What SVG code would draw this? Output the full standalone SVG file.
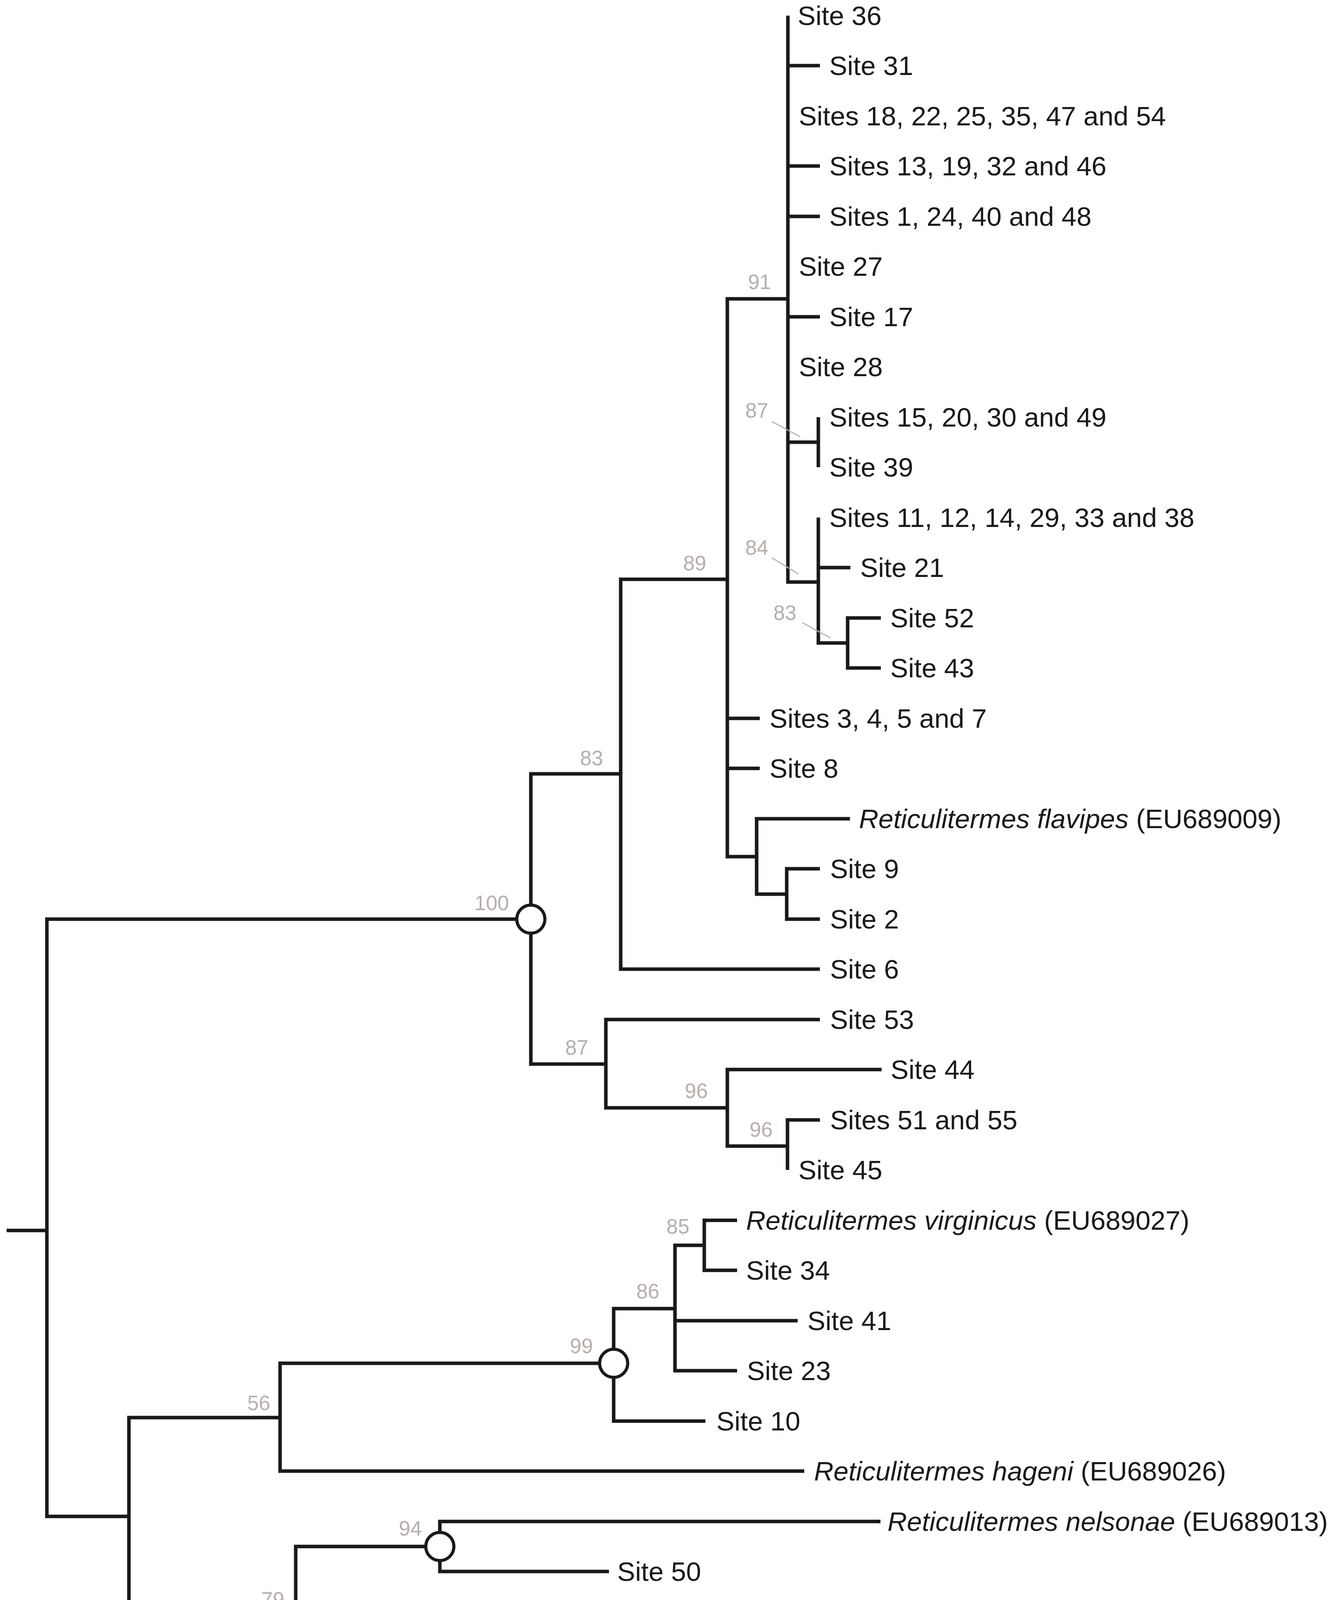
<svg xmlns="http://www.w3.org/2000/svg" width="3410" height="4730" viewBox="0 0 3410 4730">
<style>
.br{fill:none;stroke:#1b1918;stroke-width:9;stroke-linejoin:miter;stroke-linecap:butt}
.ld{fill:none;stroke:#bab1ac;stroke-width:3}
.sc{fill:none;stroke:#bdb5b0;stroke-width:8}
.tip{font-family:"Liberation Sans",Arial,sans-serif;font-size:69px;fill:#1b1918}
.bs{font-family:"Liberation Sans",Arial,sans-serif;font-size:53px;fill:#b8aeaa;text-anchor:end}
.it{font-style:italic}
.nd{fill:#fff;stroke:#1b1918;stroke-width:8}
</style>
<rect width="3410" height="4730" fill="#fff"/>
<g id="connectors">
<path class="br" d="M17 3150 H120"/>
<path class="br" d="M1359 2353 H120 V3882 H330"/>
<path class="br" d="M1589 1981 H1359 V2724 H1551"/>
<path class="br" d="M1862 1483 H1589 V2481 H2099"/>
<path class="br" d="M2017 765 H1862 V2193 H1937"/>
<path class="br" d="M1862 1839 H1945"/>
<path class="br" d="M1862 1967 H1945"/>
<path class="br" d="M2017 40 V1490 H2095"/>
<path class="br" d="M2017 168 H2099"/>
<path class="br" d="M2017 425 H2099"/>
<path class="br" d="M2017 554 H2099"/>
<path class="br" d="M2017 811 H2099"/>
<path class="br" d="M2017 1132 H2095"/>
<path class="br" d="M2095 1068 V1196"/>
<path class="br" d="M2095 1325 V1646 H2170"/>
<path class="br" d="M2095 1453 H2177"/>
<path class="br" d="M2255 1582 H2170 V1710 H2255"/>
<path class="br" d="M2176 2096 H1937 V2289 H2014"/>
<path class="br" d="M2099 2224 H2014 V2353 H2099"/>
<path class="br" d="M2099 2610 H1551 V2836 H1862"/>
<path class="br" d="M2257 2738 H1862 V2934 H2016"/>
<path class="br" d="M2099 2867 H2016 V2995"/>
<path class="br" d="M717 3629 H330 V4139 H757"/>
<path class="br" d="M1571 3490 H717 V3766 H2059"/>
<path class="br" d="M1728 3350 H1571 V3638 H1806"/>
<path class="br" d="M1803 3188 H1728 V3509 H1887"/>
<path class="br" d="M1728 3381 H2042"/>
<path class="br" d="M1887 3124 H1803 V3252 H1887"/>
<path class="br" d="M1126 3959 H757 V4312 H1241"/>
<path class="br" d="M2254 3895 H1126 V4023 H1559"/>
<path class="br" d="M1439 4152 H1241 V4474 H1511"/>
<path class="br" d="M1598 4280 H1511 V4666"/>
<path class="br" d="M1511 4409 H1598"/>
<path class="ld" d="M1976 1079 L2048 1118"/>
<path class="ld" d="M1976 1428 L2045 1470"/>
<path class="ld" d="M2054 1594 L2126 1633"/>
</g>
<g id="internal-nodes">
<g id="n100"><circle class="nd" cx="1359" cy="2353" r="36"/><text class="bs" x="1303" y="2330">100</text></g>
<g id="n83u"><text class="bs" x="1544" y="1959">83</text></g>
<g id="n89"><text class="bs" x="1808" y="1460">89</text></g>
<g id="n91"><text class="bs" x="1974" y="740">91</text></g>
<g id="n87a"><text class="bs" x="1967" y="1069">87</text></g>
<g id="n84"><text class="bs" x="1967" y="1420">84</text></g>
<g id="n83a"><text class="bs" x="2039" y="1587">83</text></g>
<g id="n87b"><text class="bs" x="1506" y="2700">87</text></g>
<g id="n96"><text class="bs" x="1812" y="2811">96</text></g>
<g id="n96b"><text class="bs" x="1978" y="2910">96</text></g>
<g id="n56"><text class="bs" x="692" y="3610">56</text></g>
<g id="n99a"><circle class="nd" cx="1571" cy="3490" r="36"/><text class="bs" x="1518" y="3464">99</text></g>
<g id="n86"><text class="bs" x="1688" y="3324">86</text></g>
<g id="n85"><text class="bs" x="1765" y="3158">85</text></g>
<g id="n79"><text class="bs" x="728" y="4113">79</text></g>
<g id="n94"><circle class="nd" cx="1126" cy="3959" r="36"/><text class="bs" x="1080" y="3931">94</text></g>
<g id="n99b"><circle class="nd" cx="1241" cy="4312" r="36"/><text class="bs" x="1185" y="4284">99</text></g>
<g id="n98"><text class="bs" x="1478" y="4449">98</text></g>
</g>
<g id="tips">
<g id="t-site36"><text class="tip" x="2042" y="64">Site 36</text></g>
<g id="t-site31"><text class="tip" x="2123" y="192">Site 31</text></g>
<g id="t-sites18"><text class="tip" x="2045" y="321">Sites 18, 22, 25, 35, 47 and 54</text></g>
<g id="t-sites13"><text class="tip" x="2123" y="449">Sites 13, 19, 32 and 46</text></g>
<g id="t-sites1"><text class="tip" x="2123" y="578">Sites 1, 24, 40 and 48</text></g>
<g id="t-site27"><text class="tip" x="2045" y="706">Site 27</text></g>
<g id="t-site17"><text class="tip" x="2123" y="835">Site 17</text></g>
<g id="t-site28"><text class="tip" x="2045" y="963">Site 28</text></g>
<g id="t-sites15"><text class="tip" x="2123" y="1092">Sites 15, 20, 30 and 49</text></g>
<g id="t-site39"><text class="tip" x="2123" y="1220">Site 39</text></g>
<g id="t-sites11"><text class="tip" x="2123" y="1349">Sites 11, 12, 14, 29, 33 and 38</text></g>
<g id="t-site21"><text class="tip" x="2202" y="1477">Site 21</text></g>
<g id="t-site52"><text class="tip" x="2279" y="1606">Site 52</text></g>
<g id="t-site43"><text class="tip" x="2279" y="1734">Site 43</text></g>
<g id="t-sites3"><text class="tip" x="1970" y="1863">Sites 3, 4, 5 and 7</text></g>
<g id="t-site8"><text class="tip" x="1970" y="1991">Site 8</text></g>
<g id="t-flavipes"><text class="tip" x="2199" y="2120"><tspan class="it">Reticulitermes flavipes</tspan> (EU689009)</text></g>
<g id="t-site9"><text class="tip" x="2125" y="2248">Site 9</text></g>
<g id="t-site2"><text class="tip" x="2125" y="2377">Site 2</text></g>
<g id="t-site6"><text class="tip" x="2125" y="2505">Site 6</text></g>
<g id="t-site53"><text class="tip" x="2125" y="2634">Site 53</text></g>
<g id="t-site44"><text class="tip" x="2280" y="2762">Site 44</text></g>
<g id="t-sites51"><text class="tip" x="2125" y="2891">Sites 51 and 55</text></g>
<g id="t-site45"><text class="tip" x="2044" y="3019">Site 45</text></g>
<g id="t-virginicus"><text class="tip" x="1910" y="3148"><tspan class="it">Reticulitermes virginicus</tspan> (EU689027)</text></g>
<g id="t-site34"><text class="tip" x="1910" y="3276">Site 34</text></g>
<g id="t-site41"><text class="tip" x="2067" y="3405">Site 41</text></g>
<g id="t-site23"><text class="tip" x="1912" y="3533">Site 23</text></g>
<g id="t-site10"><text class="tip" x="1834" y="3662">Site 10</text></g>
<g id="t-hageni"><text class="tip" x="2084" y="3790"><tspan class="it">Reticulitermes hageni</tspan> (EU689026)</text></g>
<g id="t-nelsonae"><text class="tip" x="2272" y="3919"><tspan class="it">Reticulitermes nelsonae</tspan> (EU689013)</text></g>
<g id="t-site50"><text class="tip" x="1580" y="4047">Site 50</text></g>
<g id="t-malletei"><text class="tip" x="1461" y="4176"><tspan class="it">Reticulitermes malletei</tspan> (JF796227)</text></g>
<g id="t-site42"><text class="tip" x="1620" y="4304">Site 42</text></g>
<g id="t-site37"><text class="tip" x="1620" y="4433">Site 37</text></g>
<g id="t-site26"><text class="tip" x="1539" y="4561">Site 26</text></g>
<g id="t-site16"><text class="tip" x="1539" y="4690">Site 16</text></g>
</g>
<g id="scale-bar">
<path class="sc" d="M104 4596 H496 M104 4571 V4622 M496 4571 V4622"/>
<text x="305" y="4692" text-anchor="middle" font-family="Liberation Sans, Arial, sans-serif" font-size="66" fill="#b8aeaa">5 steps</text>
</g>
</svg>
